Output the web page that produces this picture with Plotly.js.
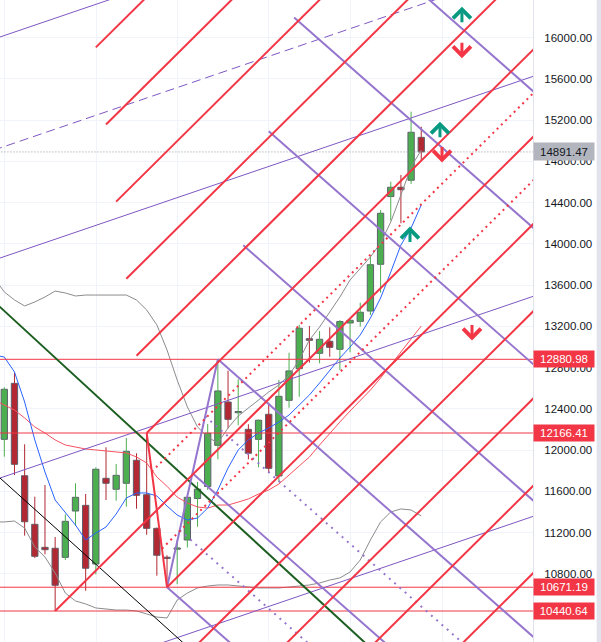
<!DOCTYPE html>
<html><head><meta charset="utf-8">
<script src="https://cdn.plot.ly/plotly-3.0.1.min.js"></script>
<style>html,body{margin:0;padding:0;background:#fff;overflow:hidden}#chart{width:601px;height:642px}</style>
</head><body><div id="chart"></div>
<script>
// ---------- candles (weekly), index 0..41 ----------
const candleIdx = [0,1,2,3,4,5,6,7,8,9,10,11,12,13,14,15,16,17,18,19,20,21,22,23,24,25,26,27,28,29,30,31,32,33,34,35,36,37,38,39,40,41];
const open  = [12105,12648,11752,11281,11058,11049,10961,11410,11465,10896,11727,11621,11679,11902,11568,11242,10960,11040,11129,11531,11648,12047,12467,12363,12202,12105,12348,11750,12483,12790,13081,12939,13056,12978,13233,13249,13349,13802,14459,14549,14617,15033];
const high  = [12610,12751,12057,11549,11662,11158,11378,11679,11575,11834,12028,11866,12118,11970,12166.41,11250,10981,11129,11546,11691,12254,12880.98,12770,12687,12251,12299,12459,12680,12945,13216,13204,13155,13191,13262,13281,13430,13876,14329,14603,14668,15282,15136];
const low   = [11937,11759,11171,10955,10990,10440.64,10935,11265,10637,10796,11517,11510,11452,11433,11180,10783,10671.19,10700,11056,11258,11614,11911,12212,12241,11911,11834,11782,11694,12412,12518,12848,12842,12906,12777,12949,13197,13311,13527,14225,14200,14581,14807];
const close = [12590,11863,11306,10971,11035,10690,11310,11543,10855,11815,11679,11756,11989,11562,11242,10981,10950,11045,11543,11622,12164,12574,12299,12368,11970,12290,11824,12522,12768,13182,13065,13075,12997,13247,13259,13337,13798,14297,14549,14525,15082,14891.47];

// ---------- indicators, index -1..41 ----------
const maIdx = [-1,0,1,2,3,4,5,6,7,8,9,10,11,12,13,14,15,16,17,18,19,20,21,22,23,24,25,26,27,28,29,30,31,32,33,34,35,36,37,38,39,40,41];
const maFast = [12922,12903,12758,12467,12099,11788,11517,11401,11274,11129,11197,11255,11381,11536,11585,11585,11556,11459,11371,11323,11342,11439,11614,11827,12002,12099,12166,12215,12273,12341,12438,12535,12651,12777,12894,13000,13117,13281,13475,13727,13989,14154,14377];
const maBasis = [12486,12438,12389,12312,12225,12166,12099,12050,12031,12011,12002,11992,11982,11973,11934,11876,11740,11650,11545,11488,11449,11439,11468,11468,11497,11527,11575,11614,11672,11759,11846,11934,12050,12166,12273,12380,12486,12583,12700,12826,12952,13068,13204];
const bbUpper = [13669,13534,13456,13398,13437,13485,13543,13524,13495,13504,13504,13504,13504,13504,13456,13359,13214,12971,12680,12419,12225,12128,12069,12215,12331,12409,12486,12564,12632,12729,12874,13068,13194,13340,13485,13650,13766,13873,14009,14212,14474,14745,14910];
const bbLower = [11304,11304,11313,11245,11061,10964,10809,10615,10538,10509,10470,10460,10450,10450,10441,10412,10382,10373,10547,10615,10664,10683,10693,10693,10683,10673,10664,10664,10664,10673,10683,10693,10712,10741,10761,10819,10935,11129,11304,11401,11430,11420,11362];

// ---------- axis ----------
const priceTicks = [10800,11200,11600,12000,12400,12800,13200,13600,14000,14400,14800,15200,15600,16000];
const gridIdx = [0,9.1,17,26,34,43.1];
const levelPrices = [12880.98,12166.41,10671.19,10440.64];
const lastPrice = 14891.47;

// ---------- drawings: [idx0, price0, idx1, price1] ----------
const redFan = [
  [9,15905,40,18937],[10,15158,40,18092],[11,14410,55,18713],[12,13662,55,17867],
  [13,12915,55,17023],[14,12166.41,55,16176],[5,10440.64,55,15331],[16,10671.19,55,14485],
  [16,9825,60,14128],[16,8979,60,13282],[16,8133,60,12436],[16,7287,60,11590]
];
const redSteep = [[14,12166.41,16,10671.19]];
const redDotted = [[14.5,11792.6,60,16242],[15.5,11045,60,15397]];
const purpleFan = [
  [16,10671.19,60,6852],[18.5,11776,60,8174],[21,12880.98,60,9496],[23.5,13986,60,10818],
  [26,15091,60,12140],[28.5,16196,60,13462],[31,17302,60,14785]
];
const purpleSteep = [[16,10671.19,21,12880.98]];
const purpleDotted = [[17.25,11223.6,60,7513],[19.75,12328.5,60,8835]];
const purpleThin = [[-5,15852,60,18036],[-5,13709,60,15893],[-5,11576,60,13760],[-5,9443,60,11627]];
const purpleDashed = [[-5,14776,60,16960]];
const blackLine = [[-5,12136,25,9475]];
const greenLine = [[-5,13803,40,9722]];
const upArrows = [[45.0,16300],[42.84,15185],[39.89,14168]];
const downArrows = [[45.0,15800],[43.04,14790],[45.99,13064]];

// ---------- build ----------
const FONT = '"Liberation Sans", Arial, sans-serif';
const UP = '#4caf50', DN = '#b22833', RED = '#f23645';

function segTrace(segs, color, width, dash){
  const x=[], y=[];
  segs.forEach(s=>{x.push(s[0],s[2],null); y.push(s[1],s[3],null);});
  return {type:'scatter', mode:'lines', x:x, y:y, line:{color:color, width:width, dash:dash||'solid'},
          hoverinfo:'skip', showlegend:false, connectgaps:false};
}
function lineTrace(x, y, color, width){
  return {type:'scatter', mode:'lines', x:x, y:y, line:{color:color, width:width}, hoverinfo:'skip', showlegend:false};
}
function wickTrace(isUp){
  const x=[], y=[];
  candleIdx.forEach((i,k)=>{
    if((close[k]>=open[k])===isUp){ x.push(i,i,null); y.push(low[k],high[k],null); }
  });
  return {type:'scatter', mode:'lines', x:x, y:y, line:{color:isUp?UP:DN, width:1}, hoverinfo:'skip', showlegend:false};
}
const bodies = {
  type:'bar', x:candleIdx,
  base: candleIdx.map((i,k)=>Math.min(open[k],close[k])),
  y: candleIdx.map((i,k)=>Math.max(Math.abs(close[k]-open[k]),12)),
  width:0.62,
  marker:{color:candleIdx.map((i,k)=>close[k]>=open[k]?UP:DN), line:{color:'#5d606b', width:1}},
  hoverinfo:'skip', showlegend:false
};

const levels = levelPrices.map(p=>[-5,p,60,p]);

const traces = [
  bodies,
  wickTrace(true), wickTrace(false),
  lineTrace(maIdx, bbUpper, '#8c8c8c', 1),
  lineTrace(maIdx, bbLower, '#8c8c8c', 1),
  lineTrace(maIdx, maBasis, '#f7525f', 1),
  lineTrace(maIdx, maFast, '#2962ff', 1),
  segTrace([[-5,lastPrice,60,lastPrice]], '#9598a1', 1, '1px,2px'),
  segTrace(levels, RED, 1),
  segTrace(purpleThin, '#7e57c2', 1),
  segTrace(purpleDashed, '#7e57c2', 1, '9px,5px'),
  segTrace(blackLine, '#000000', 1),
  segTrace(greenLine, '#1b5e20', 2),
  segTrace(purpleDotted, '#9575cd', 2, '2px,5px'),
  segTrace(purpleFan, '#9575cd', 2),
  segTrace(purpleSteep, '#9575cd', 2),
  segTrace(redDotted, RED, 2, '2px,4px'),
  segTrace(redFan, RED, 2),
  segTrace(redSteep, RED, 2)
];

const annotations = [];
levelPrices.forEach(p=>annotations.push({
  xref:'paper', x:1, xanchor:'left', yref:'y', y:p, yanchor:'middle',
  text:p.toFixed(2), showarrow:false, bgcolor:RED, borderpad:2, width:56, height:12,
  font:{family:FONT, size:11.5, color:'#ffffff'}, align:'center'
}));
annotations.push({
  xref:'paper', x:1, xanchor:'left', yref:'y', y:lastPrice, yanchor:'middle',
  text:lastPrice.toFixed(2), showarrow:false, bgcolor:'#b2b5be', borderpad:2, width:56, height:13,
  font:{family:FONT, size:11.5, color:'#131722'}, align:'center'
});
upArrows.forEach(a=>annotations.push({xref:'x', yref:'y', x:a[0], y:a[1], text:'', showarrow:true,
  ax:0, ay:17, arrowhead:4, arrowsize:1.15, arrowwidth:3, arrowcolor:'#089981', standoff:0}));
downArrows.forEach(a=>annotations.push({xref:'x', yref:'y', x:a[0], y:a[1], text:'', showarrow:true,
  ax:0, ay:-17, arrowhead:4, arrowsize:1.15, arrowwidth:3, arrowcolor:RED, standoff:0}));

const layout = {
  width:601, height:642, margin:{l:0, r:68, t:0, b:0, pad:0},
  paper_bgcolor:'#ffffff', plot_bgcolor:'#ffffff',
  showlegend:false, hovermode:false, dragmode:false, barmode:'overlay',
  xaxis:{range:[-0.4228,51.987], showticklabels:false, ticks:'', tickmode:'array', tickvals:gridIdx,
         showgrid:true, gridcolor:'#f0f3fa', gridwidth:1, zeroline:false, showline:false, fixedrange:true},
  yaxis:{side:'right', range:[10140.1,16364.5], tickmode:'array', tickvals:priceTicks,
         ticktext:priceTicks.map(v=>v.toFixed(2)), showgrid:true, gridcolor:'#f0f3fa', gridwidth:1,
         zeroline:false, ticks:'outside', ticklen:8, tickcolor:'rgba(0,0,0,0)',
         tickfont:{family:FONT, size:11.5, color:'#131722'}, showline:true, linecolor:'#e0e3eb', linewidth:1,
         fixedrange:true},
  annotations:annotations,
  shapes:[{type:'rect', xref:'paper', yref:'paper', x0:1.1195, x1:1.13, y0:0, y1:1,
           fillcolor:'#e0e3eb', line:{width:0}, layer:'above'}]
};

Plotly.newPlot('chart', traces, layout, {staticPlot:true, displayModeBar:false});
</script>
</body></html>
